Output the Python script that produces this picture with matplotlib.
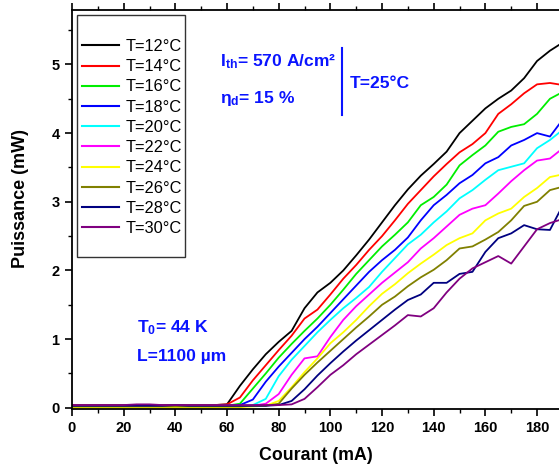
import matplotlib
matplotlib.use("Agg")
import matplotlib.pyplot as plt
from matplotlib.patches import Rectangle
from matplotlib.ticker import MultipleLocator

plt.rcParams['font.family'] = ['Liberation Sans', 'DejaVu Sans']
plt.rcParams['mathtext.fontset'] = 'custom'
plt.rcParams['mathtext.rm'] = 'Liberation Sans:bold'
plt.rcParams['mathtext.bf'] = 'Liberation Sans:bold'
plt.rcParams['mathtext.it'] = 'Liberation Sans:bold'

current = [0, 5, 10, 15, 20, 25, 30, 35, 40, 45, 50, 55, 60, 65, 70, 75, 80, 85, 90, 95,
           100, 105, 110, 115, 120, 125, 130, 135, 140, 145, 150, 155, 160, 165, 170, 175,
           180, 185, 190]

labels = ["T=12°C", "T=14°C", "T=16°C", "T=18°C", "T=20°C",
          "T=22°C", "T=24°C", "T=26°C", "T=28°C", "T=30°C"]
colors = ["#000000", "#ff0000", "#00ee00", "#0000ff", "#00ffff",
          "#ff00ff", "#ffff00", "#808000", "#000080", "#800080"]

p12 = [0.04, 0.04, 0.04, 0.04, 0.04, 0.04, 0.04, 0.04, 0.04, 0.04, 0.04, 0.04, 0.05, 0.32,
       0.56, 0.78, 0.96, 1.12, 1.45, 1.68, 1.82, 2.00, 2.22, 2.45, 2.70, 2.95, 3.18, 3.38,
       3.55, 3.73, 4.00, 4.18, 4.36, 4.50, 4.62, 4.80, 5.05, 5.20, 5.32]
p14 = [0.04, 0.04, 0.04, 0.04, 0.04, 0.04, 0.04, 0.04, 0.04, 0.04, 0.04, 0.04, 0.05, 0.15,
       0.40, 0.62, 0.84, 1.05, 1.30, 1.43, 1.65, 1.88, 2.08, 2.30, 2.50, 2.73, 2.97, 3.17,
       3.37, 3.55, 3.72, 3.84, 4.00, 4.28, 4.42, 4.58, 4.71, 4.73, 4.70]
p16 = [0.03, 0.03, 0.03, 0.03, 0.03, 0.03, 0.03, 0.03, 0.03, 0.03, 0.03, 0.03, 0.03, 0.06,
       0.28, 0.50, 0.73, 0.93, 1.12, 1.30, 1.50, 1.72, 1.95, 2.15, 2.35, 2.52, 2.70, 2.95,
       3.07, 3.25, 3.53, 3.68, 3.82, 4.02, 4.09, 4.13, 4.28, 4.50, 4.60]
p18 = [0.02, 0.02, 0.02, 0.02, 0.03, 0.02, 0.02, 0.02, 0.03, 0.02, 0.02, 0.02, 0.03, 0.04,
       0.12, 0.38, 0.60, 0.80, 1.00, 1.18, 1.38, 1.58, 1.78, 1.98, 2.15, 2.30, 2.48, 2.73,
       2.95, 3.10, 3.27, 3.39, 3.56, 3.65, 3.82, 3.90, 4.00, 3.95, 4.20]
p20 = [0.03, 0.03, 0.03, 0.03, 0.03, 0.03, 0.03, 0.03, 0.03, 0.03, 0.03, 0.03, 0.03, 0.03,
       0.04, 0.13, 0.46, 0.70, 0.90, 1.10, 1.28, 1.45, 1.60, 1.76, 1.98, 2.18, 2.38, 2.52,
       2.70, 2.86, 3.05, 3.17, 3.32, 3.46, 3.51, 3.56, 3.78, 3.90, 4.05]
p22 = [0.01, 0.01, 0.01, 0.01, 0.02, 0.01, 0.01, 0.01, 0.02, 0.01, 0.01, 0.01, 0.02, 0.02,
       0.03, 0.06, 0.20, 0.48, 0.72, 0.75, 1.03, 1.28, 1.48, 1.65, 1.82, 1.97, 2.12, 2.32,
       2.47, 2.64, 2.81, 2.90, 2.95, 3.12, 3.30, 3.46, 3.60, 3.63, 3.78]
p24 = [0.00, 0.00, 0.00, 0.00, 0.00, 0.00, 0.00, 0.00, 0.00, 0.00, 0.00, 0.00, 0.01, 0.01,
       0.02, 0.03, 0.10, 0.30, 0.52, 0.72, 0.94, 1.10, 1.28, 1.48, 1.66, 1.80, 1.96, 2.10,
       2.23, 2.37, 2.47, 2.54, 2.73, 2.83, 2.90, 3.07, 3.20, 3.36, 3.40]
p26 = [0.02, 0.02, 0.02, 0.02, 0.02, 0.02, 0.02, 0.02, 0.02, 0.02, 0.02, 0.02, 0.02, 0.02,
       0.03, 0.03, 0.06, 0.28, 0.48, 0.66, 0.83, 1.00, 1.17, 1.33, 1.50, 1.62, 1.77, 1.90,
       2.01, 2.15, 2.32, 2.35, 2.45, 2.56, 2.73, 2.94, 3.00, 3.17, 3.22]
p28 = [0.03, 0.03, 0.03, 0.03, 0.03, 0.03, 0.03, 0.03, 0.04, 0.03, 0.03, 0.03, 0.03, 0.03,
       0.03, 0.03, 0.04, 0.10, 0.27, 0.47, 0.65, 0.82, 0.98, 1.13, 1.28, 1.43, 1.57, 1.65,
       1.82, 1.82, 1.95, 1.98, 2.27, 2.47, 2.54, 2.66, 2.60, 2.59, 2.95]
p30 = [0.04, 0.04, 0.04, 0.04, 0.04, 0.05, 0.05, 0.04, 0.04, 0.04, 0.04, 0.04, 0.04, 0.04,
       0.04, 0.04, 0.04, 0.05, 0.13, 0.30, 0.48, 0.62, 0.78, 0.92, 1.06, 1.20, 1.35, 1.33,
       1.45, 1.68, 1.88, 2.03, 2.12, 2.21, 2.10, 2.35, 2.60, 2.69, 2.75]

series = [p12, p14, p16, p18, p20, p22, p24, p26, p28, p30]

W, H = 559, 468
fig = plt.figure(figsize=(W / 100, H / 100), dpi=100)
ax_l, ax_r, ax_t, ax_b = 72, 559, 9.5, 408.5
ax = fig.add_axes([ax_l / W, 1 - ax_b / H, (ax_r - ax_l) / W, (ax_b - ax_t) / H])

handles = []
for vals, lab, col in zip(series, labels, colors):
    h, = ax.plot(current, vals, color=col, lw=1.3, label=lab)
    handles.append(h)

ax.set_xlim(0, 188.5)
ax.set_ylim(-0.01, 5.8)
ax.xaxis.set_major_locator(MultipleLocator(20))
ax.xaxis.set_minor_locator(MultipleLocator(10))
ax.yaxis.set_major_locator(MultipleLocator(1))
ax.yaxis.set_minor_locator(MultipleLocator(0.5))
ax.spines['right'].set_visible(False)
for s in ['left', 'bottom', 'top']:
    ax.spines[s].set_linewidth(1.3)
ax.tick_params(axis='both', which='major', direction='out', length=5, width=1.2,
               labelsize=10.5, pad=4)
ax.tick_params(axis='both', which='minor', direction='out', length=3, width=1.0)
ax.tick_params(axis='x', which='both', top=True)
for lbl in ax.get_xticklabels() + ax.get_yticklabels():
    lbl.set_fontweight('bold')

ax.set_xlabel("Courant (mA)", fontsize=12.8, fontweight='bold', labelpad=9)
ax.set_ylabel("Puissance (mW)", fontsize=13, fontweight='bold')


def axpt(px, py):
    return ((px - ax_l) / (ax_r - ax_l), (ax_b - py) / (ax_b - ax_t))


ax.yaxis.set_label_coords(*axpt(29.5, 198))

# legend
x0, y0 = axpt(77, 257)
x1, y1 = axpt(185, 15)
ax.add_patch(Rectangle((x0, y0), x1 - x0, y1 - y0, transform=ax.transAxes,
                       fill=False, edgecolor='#333333', lw=1.0, zorder=5))
lx, ly = axpt(82, 39)
leg = ax.legend(handles=handles, loc='upper left', bbox_to_anchor=(lx, ly),
                frameon=False, fontsize=11.8, borderpad=0, borderaxespad=0,
                labelspacing=0.32, handlelength=2.25, handletextpad=0.4)
for line in leg.get_lines():
    line.set_linewidth(1.5)

blue = '#0a14ff'
fs = 12.6
tx, ty = axpt(220, 62)
ax.text(tx, ty, r"$\mathregular{I_{th}}$= 570 A/cm²", transform=ax.transAxes,
        color=blue, fontsize=fs, fontweight='bold', va='center', ha='left')
tx, ty = axpt(220, 98)
ax.text(tx, ty, r"$\mathregular{η_{d}}$= 15 %", transform=ax.transAxes,
        color=blue, fontsize=fs, fontweight='bold', va='center', ha='left')
vx, vy0 = axpt(342, 48)
_, vy1 = axpt(342, 115)
ax.plot([vx, vx], [vy0, vy1], transform=ax.transAxes, color=blue, lw=1.5)
tx, ty = axpt(350, 83)
ax.text(tx, ty, "T=25°C", transform=ax.transAxes,
        color=blue, fontsize=fs, fontweight='bold', va='center', ha='left')
tx, ty = axpt(137, 328)
ax.text(tx, ty, r"$\mathregular{T_{0}}$= 44 K", transform=ax.transAxes,
        color=blue, fontsize=fs, fontweight='bold', va='center', ha='left')
tx, ty = axpt(137, 356)
ax.text(tx, ty, "L=1100 µm", transform=ax.transAxes,
        color=blue, fontsize=fs, fontweight='bold', va='center', ha='left')

fig.savefig("out.png", dpi=100)
